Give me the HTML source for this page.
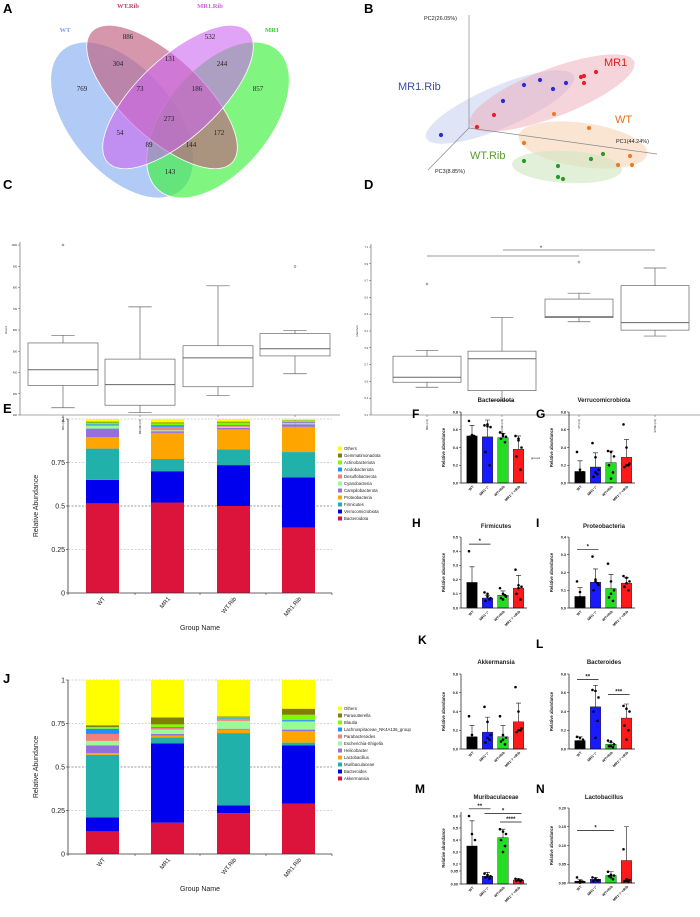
<!DOCTYPE html>
<html><head><meta charset="utf-8">
<style>
html,body{margin:0;padding:0;background:#fff;}
svg{display:block;font-family:"Liberation Sans",sans-serif;}
.pl{font-weight:bold;font-size:13px;fill:#000;}
</style></head>
<body>
<svg id="fig" width="700" height="917" viewBox="0 0 700 917">
  <text class="pl" x="3" y="13">A</text>
  <text class="pl" x="364" y="13">B</text>
  <text class="pl" x="3" y="189">C</text>
  <text class="pl" x="364" y="189">D</text>
  <text class="pl" x="3" y="413">E</text>
  <text class="pl" x="3" y="683">J</text>

  <g id="venn">
    <ellipse cx="122" cy="120" rx="92" ry="52" transform="rotate(50 122 120)" fill="#94b6f2" fill-opacity="0.72" stroke="#fff" stroke-width="0.8"/>
    <ellipse cx="218" cy="120" rx="92" ry="52" transform="rotate(-50 218 120)" fill="#3cf03c" fill-opacity="0.65" stroke="#fff" stroke-width="0.8"/>
    <ellipse cx="162" cy="97" rx="96" ry="40" transform="rotate(43 162 97)" fill="#c0607f" fill-opacity="0.65" stroke="#fff" stroke-width="0.8"/>
    <ellipse cx="178" cy="97" rx="96" ry="40" transform="rotate(-43 178 97)" fill="#cc66ee" fill-opacity="0.6" stroke="#fff" stroke-width="0.8"/>
    <g font-family="Liberation Serif, serif" font-size="7" text-anchor="middle" fill="#222">
      <text x="82" y="91">769</text>
      <text x="128" y="39">886</text>
      <text x="210" y="39">532</text>
      <text x="258" y="91">857</text>
      <text x="118" y="66">304</text>
      <text x="170" y="61">131</text>
      <text x="222" y="66">244</text>
      <text x="140" y="91">73</text>
      <text x="197" y="91">186</text>
      <text x="169" y="121">273</text>
      <text x="120" y="135">54</text>
      <text x="219" y="135">172</text>
      <text x="149" y="147">89</text>
      <text x="191" y="147">144</text>
      <text x="170" y="174">143</text>
    </g>
    <g font-family="Liberation Serif, serif" font-size="6.5" font-weight="bold" text-anchor="middle">
      <text x="65" y="32" fill="#6fa0ff">WT</text>
      <text x="128" y="8" fill="#c0406a">WT.Rib</text>
      <text x="210" y="8" fill="#d060e0">MR1.Rib</text>
      <text x="272" y="32" fill="#30d030">MR1</text>
    </g>
  </g>

  <g id="pca">
    <ellipse cx="500" cy="107" rx="80" ry="21" transform="rotate(-23 500 107)" fill="#b8c4ee" fill-opacity="0.45"/>
    <ellipse cx="552" cy="93" rx="88" ry="24" transform="rotate(-21 552 93)" fill="#eeaab8" fill-opacity="0.5"/>
    <ellipse cx="583" cy="145" rx="65" ry="22" transform="rotate(8 583 145)" fill="#f6cfae" fill-opacity="0.55"/>
    <ellipse cx="567" cy="167" rx="55" ry="16" transform="rotate(3 567 167)" fill="#cfe6bf" fill-opacity="0.6"/>
    <line x1="469" y1="15" x2="469" y2="128" stroke="#888" stroke-width="0.7"/>
    <line x1="469" y1="128" x2="657" y2="154" stroke="#888" stroke-width="0.7"/>
    <line x1="469" y1="128" x2="428" y2="170" stroke="#888" stroke-width="0.7"/>
    <text x="424" y="20" font-size="5.5" fill="#222">PC2(26.05%)</text>
    <text x="616" y="143" font-size="5.5" fill="#222">PC1(44.24%)</text>
    <text x="435" y="173" font-size="5.5" fill="#222">PC3(8.85%)</text>
    <text x="398" y="90" font-size="11" fill="#3a4fa8">MR1.Rib</text>
    <text x="604" y="66" font-size="11" fill="#e02020">MR1</text>
    <text x="615" y="123" font-size="11" fill="#e07020">WT</text>
    <text x="470" y="159" font-size="11" fill="#5a9a30">WT.Rib</text>
    <g id="pcaPts"></g>
  </g>

  <g id="boxC"></g>
  <g id="boxD"></g>
  <g id="stackE"></g>
  <g id="stackJ"></g>
  <g id="bars"></g>
</svg>

<script>
const pcaGroups = ["MR1","MR1.Rib","WT","WT.Rib"];
const pcaColors = ["#e8202a","#2a2ad8","#f07a20","#2a9a2a"];
const pcaPC1 = [[581,584,596,584,494,477],[524,540,553,566,503,441],[554,589,524,630,618,632],[591,603,524,558,558,563]];
const pcaPC2 = [[77,76,72,83,115,127],[85,80,89,83,101,135],[114,128,143,156,165,165],[159,154,161,166,177,179]];

const boxCats = ["MR1 (n=6)","MR1.Rib (n=6)","WT (n=6)","WT.Rib (n=6)"];
const chaoLow = [234,211,291,394];
const chaoQ1 = [339,246,333,478];
const chaoMed = [413,343,469,512];
const chaoQ3 = [539,463,526,583];
const chaoHigh = [575,709,808,598];
const chaoOut = [1000,null,null,899];
const chaoTicks = [200,300,400,500,600,700,800,900,1000];
const shanLow = [5.43,5.27,6.21,6.04];
const shanQ1 = [5.49,5.39,6.26,6.11];
const shanMed = [5.55,5.77,6.27,6.20];
const shanQ3 = [5.80,5.86,6.48,6.64];
const shanHigh = [5.87,6.26,6.55,6.85];
const shanOut = [6.66,null,6.92,null];
const shanTicks = [5.1,5.3,5.5,5.7,5.9,6.1,6.3,6.5,6.7,6.9,7.1];

const groups = ["WT","MR1","WT.Rib","MR1.Rib"];
const phyla = ["Bacteroidota","Verrucomicrobiota","Firmicutes","Proteobacteria","Campilobacterota","Cyanobacteria","Desulfobacterota","Acidobacteriota","Actinobacteriota","Gemmatimonadota","Others"];
const phylaColors = ["#dc143c","#0000ee","#20b2aa","#ffa500","#9370db","#98fb98","#f08080","#1e90ff","#7cfc00","#808000","#ffff00"];
const phylaWT = [0.515,0.135,0.18,0.065,0.05,0.015,0.005,0.005,0.01,0.005,0.015];
const phylaMR1 = [0.52,0.18,0.07,0.15,0.01,0.005,0.02,0.01,0.01,0.005,0.02];
const phylaWTRib = [0.50,0.235,0.09,0.115,0.01,0.005,0.005,0.005,0.015,0.005,0.015];
const phylaMR1Rib = [0.375,0.29,0.145,0.145,0.015,0.005,0.005,0.003,0.007,0.003,0.007];
const genera = ["Akkermansia","Bacteroides","Muribaculaceae","Lactobacillus","Helicobacter","Escherichia-Shigella","Parabacteroides","Lachnospiraceae_NK4A136_group","Blautia","Parasutterella","Others"];
const generaColors = ["#dc143c","#0000ee","#20b2aa","#ffa500","#9370db","#98fb98","#f08080","#1e90ff","#7cfc00","#808000","#ffff00"];
const genWT = [0.13,0.08,0.36,0.01,0.045,0.025,0.04,0.03,0.01,0.01,0.26];
const genMR1 = [0.18,0.455,0.035,0.01,0.01,0.025,0.01,0.005,0.015,0.04,0.215];
const genWTRib = [0.235,0.045,0.415,0.02,0.005,0.045,0.01,0.005,0.005,0.005,0.21];
const genMR1Rib = [0.29,0.335,0.015,0.065,0.01,0.045,0.005,0.005,0.03,0.035,0.165];
const stackTicks = [0,0.25,0.5,0.75,1];
const stackTickLabels = ["0","0.25","0.5","0.75","1"];

const barCats = ["WT","MR1⁻/⁻","WT+Rib","MR1⁻/⁻+Rib"];
const barColors = ["#000000","#1a1aff","#22dd22","#ff1a1a"];
const fMeans = [0.53,0.52,0.51,0.38];
const fErr = [0.65,0.71,0.56,0.53];
const fDots = [[0.70,0.53,0.52,0.52,0.53,0.54],[0.65,0.66,0.63,0.35,0.20,0.64],[0.57,0.53,0.52,0.50,0.46,0.55],[0.53,0.50,0.40,0.30,0.15,0.48]];
const gMeans = [0.13,0.18,0.23,0.29];
const gErr = [0.25,0.34,0.36,0.49];
const gDots = [[0.35,0.15,0.12,0.10,0.10,0.12],[0.45,0.29,0.15,0.07,0.10,0.12],[0.36,0.35,0.30,0.20,0.12,0.05],[0.66,0.40,0.22,0.18,0.20,0.20]];
const hMeans = [0.18,0.07,0.09,0.14];
const hErr = [0.29,0.09,0.12,0.23];
const hDots = [[0.40,0.15,0.12,0.10,0.15,0.17],[0.11,0.10,0.07,0.05,0.06,0.08],[0.14,0.10,0.08,0.07,0.09,0.06],[0.27,0.16,0.15,0.10,0.06,0.14]];
const iMeans = [0.065,0.145,0.11,0.14];
const iErr = [0.115,0.22,0.19,0.17];
const iDots = [[0.15,0.09,0.05,0.04,0.03,0.06],[0.29,0.15,0.13,0.10,0.14,0.16],[0.25,0.15,0.10,0.06,0.04,0.08],[0.18,0.17,0.15,0.12,0.10,0.14]];
const kMeans = [0.13,0.18,0.13,0.29];
const kErr = [0.25,0.34,0.25,0.49];
const kDots = [[0.35,0.15,0.12,0.10,0.10,0.12],[0.45,0.29,0.15,0.07,0.10,0.12],[0.35,0.15,0.12,0.08,0.05,0.10],[0.66,0.40,0.22,0.18,0.20,0.20]];
const lMeans = [0.09,0.45,0.05,0.33];
const lErr = [0.13,0.68,0.07,0.48];
const lDots = [[0.13,0.12,0.10,0.08,0.06,0.07],[0.63,0.62,0.55,0.40,0.30,0.12],[0.09,0.08,0.05,0.03,0.02,0.03],[0.46,0.43,0.40,0.25,0.20,0.10]];
const mMeans = [0.35,0.030,0.42,0.015];
const mErr = [0.56,0.045,0.49,0.020];
const mDots = [[0.60,0.45,0.40,0.04,0.03,0.02],[0.040,0.035,0.030,0.025,0.020,0.030],[0.49,0.47,0.45,0.40,0.35,0.30],[0.020,0.018,0.015,0.012,0.010,0.015]];
const nMeans = [0.005,0.010,0.020,0.060];
const nErr = [0.010,0.015,0.030,0.150];
const nDots = [[0.015,0.005,0.003,0.002,0.004,0.001],[0.015,0.010,0.008,0.005,0.006,0.012],[0.030,0.022,0.020,0.018,0.010,0.015],[0.090,0.010,0.008,0.005,0.004,0.006]];

const NS = "http://www.w3.org/2000/svg";
function mk(tag, attrs, parent){
  const e = document.createElementNS(NS, tag);
  for (const k in attrs) e.setAttribute(k, attrs[k]);
  parent.appendChild(e);
  return e;
}
function txt(parent, x, y, s, size, extra){
  const t = mk("text", Object.assign({x:x, y:y, "font-size":size, fill:"#222"}, extra||{}), parent);
  t.textContent = s;
  return t;
}

(function(){
  const g = document.getElementById("pcaPts");
  pcaGroups.forEach((grp, gi) => {
    pcaPC1[gi].forEach((px, i) => {
      const c = mk("circle", {cx:px, cy:pcaPC2[gi][i], r:2.1, fill:pcaColors[gi]}, g);
      
      
    });
  });
})();

function boxPlot(gid, x0, x1, yTop, yBot, vMin, vMax, ticks, tickFmt, centers, bw, low, q1, med, q3, high, out, ylab, nameBase){
  const g = document.getElementById(gid);
  const y = v => yBot - (v - vMin) / (vMax - vMin) * (yBot - yTop);
  const ax = mk("path", {d:`M${x0},${yTop-3}V${yBot}H${x1}`, stroke:"#555", "stroke-width":0.6, fill:"none"}, g);
  
  
  ticks.forEach(t => {
    mk("line", {x1:x0-2, x2:x0, y1:y(t), y2:y(t), stroke:"#555", "stroke-width":0.5}, g);
    const tl = txt(g, x0-3, y(t)+1, tickFmt(t), 2.5, {"text-anchor":"end"});
    
    
  });
  centers.forEach((cx, i) => {
    const bg = mk("g", {}, g);
    
    
    const st = {stroke:"#666", "stroke-width":0.7, fill:"none"};
    mk("line", Object.assign({x1:cx, x2:cx, y1:y(high[i]), y2:y(q3[i])}, st), bg);
    mk("line", Object.assign({x1:cx, x2:cx, y1:y(q1[i]), y2:y(low[i])}, st), bg);
    mk("line", Object.assign({x1:cx-bw/6, x2:cx+bw/6, y1:y(high[i]), y2:y(high[i])}, st), bg);
    mk("line", Object.assign({x1:cx-bw/6, x2:cx+bw/6, y1:y(low[i]), y2:y(low[i])}, st), bg);
    mk("rect", Object.assign({x:cx-bw/2, y:y(q3[i]), width:bw, height:y(q1[i])-y(q3[i])}, st), bg);
    mk("line", Object.assign({x1:cx-bw/2, x2:cx+bw/2, y1:y(med[i]), y2:y(med[i])}, st, {"stroke-width":1}), bg);
    if (out[i] !== null) mk("circle", {cx:cx, cy:y(out[i]), r:1, fill:"none", stroke:"#555", "stroke-width":0.5}, bg);
    mk("line", {x1:cx, x2:cx, y1:yBot, y2:yBot+2, stroke:"#555", "stroke-width":0.5}, g);
    const xl = txt(g, 0, 0, boxCats[i], 2.3, {transform:`translate(${cx+1},${yBot+4}) rotate(-90)`, "text-anchor":"end"});
    
    
  });
  const xt = txt(g, (x0+x1)/2, yBot+44, "group1", 3, {"text-anchor":"middle"});
  
  
  const yt = txt(g, 0, 0, ylab, 3, {transform:`translate(${x0-13},${(yTop+yBot)/2}) rotate(-90)`, "text-anchor":"middle"});
  
  
  return y;
}
boxPlot("boxC", 20, 340, 245, 415, 200, 1000, chaoTicks, t => String(t), [63,140,218,295], 70, chaoLow, chaoQ1, chaoMed, chaoQ3, chaoHigh, chaoOut, "chao1", "chao1");
boxPlot("boxD", 371, 700, 247, 415, 5.1, 7.1, shanTicks, t => t.toFixed(1), [427,502,579,655], 68, shanLow, shanQ1, shanMed, shanQ3, shanHigh, shanOut, "shannon", "shannon");
(function(){
  const g = document.getElementById("boxD");
  const s1 = mk("line", {x1:427, x2:579, y1:256, y2:256, stroke:"#777", "stroke-width":0.8}, g);
  
  
  const s2 = mk("line", {x1:503, x2:655, y1:250, y2:250, stroke:"#777", "stroke-width":0.8}, g);
  
  
  const st = txt(g, 541, 250, "*", 6, {"text-anchor":"middle"});
  
  
})();

function stacked(gid, yTop, yBot, series, labels, colors, nameBase, legendY){
  const g = document.getElementById(gid);
  const x0 = 68, x1 = 332;
  const centers = [102.5, 167.5, 233.5, 298.5], bw = 33;
  const y = v => yBot - v * (yBot - yTop);
  stackTicks.forEach(t => {
    if (t > 0) {
      const gl = mk("line", {x1:x0, x2:x1, y1:y(t), y2:y(t), stroke: t===0.5 ? "#333":"#aaa", "stroke-width":0.6, "stroke-dasharray":"2,1.5"}, g);
      
      
    }
  });
  series.forEach((vals, gi) => {
    let acc = 0;
    vals.forEach((v, k) => {
      const r = mk("rect", {x:centers[gi]-bw/2, y:y(acc+v), width:bw, height:Math.max(0, y(acc)-y(acc+v)), fill:colors[k]}, g);
      
      
      acc += v;
    });
    const cap = mk("rect", {x:centers[gi]-bw/2, y:y(1), width:bw, height:Math.max(0, y(acc)-y(1)), fill:colors[colors.length-1]}, g);
    
    
    const xl = txt(g, 0, 0, groups[gi], 6, {transform:`translate(${centers[gi]+3},${yBot+6}) rotate(-50)`, "text-anchor":"end"});
    
    
  });
  const ax = mk("path", {d:`M${x0},${y(1)}V${yBot}H${x1}`, stroke:"#333", "stroke-width":0.8, fill:"none"}, g);
  
  
  [x0,135,200,266,x1].forEach(tx => mk("line", {x1:tx, x2:tx, y1:yBot, y2:yBot+2, stroke:"#333", "stroke-width":0.6}, g));
  stackTicks.forEach((t, i) => {
    mk("line", {x1:x0-2, x2:x0, y1:y(t), y2:y(t), stroke:"#333", "stroke-width":0.6}, g);
    const tl = txt(g, x0-3, y(t)+2.5, stackTickLabels[i], 7, {"text-anchor":"end"});
    
    
  });
  const yt = txt(g, 0, 0, "Relative Abundance", 7, {transform:`translate(38,${(yTop+yBot)/2}) rotate(-90)`, "text-anchor":"middle"});
  
  
  const xt = txt(g, 200, yBot+37, "Group Name", 7, {"text-anchor":"middle"});
  
  
  for (let k = labels.length-1, row = 0; k >= 0; k--, row++) {
    const ly = legendY + row * 7;
    const sw = mk("rect", {x:338, y:ly-3.5, width:4, height:4, fill:colors[k]}, g);
    
    
    const lt = txt(g, 344, ly, labels[k], 4.3, {});
    
    
  }
}
stacked("stackE", 419, 593, [phylaWT, phylaMR1, phylaWTRib, phylaMR1Rib], phyla, phylaColors, "phylum-chart", 450);
stacked("stackJ", 680, 854, [genWT, genMR1, genWTRib, genMR1Rib], genera, generaColors, "genus-chart", 710);

const jit = [-3, 0, 3, -2, 2, 0];
function barPanel(cfg){
  const root = document.getElementById("bars");
  const g = mk("g", {}, root);
  
  
  const ax0 = cfg.ax, yTop = cfg.yTop, yBot = cfg.yBot;
  const y = cfg.yfn || (v => yBot - v / cfg.max * (yBot - yTop));
  const centers = [0,1,2,3].map(i => ax0 + 11 + i * 15.5);
  const bw = 10.5;
  const ttl = txt(g, ax0 + 35, cfg.titleY, cfg.title, 6, {"text-anchor":"middle", "font-weight":"bold"});
  
  
  if (cfg.letter) {
    const pl = txt(g, cfg.letter[1], cfg.letter[2], cfg.letter[0], 12, {"font-weight":"bold", fill:"#000"});
    
    
  }
  cfg.means.forEach((m, i) => {
    const cx = centers[i];
    const r = mk("rect", {x:cx-bw/2, y:y(m), width:bw, height:yBot-y(m), fill:barColors[i], stroke:"#111", "stroke-width":0.4}, g);
    
    
    const eb = mk("path", {d:`M${cx},${y(m)}V${y(cfg.err[i])}M${cx-2.5},${y(cfg.err[i])}H${cx+2.5}`, stroke: "#111", "stroke-width":0.6, fill:"none"}, g);
    
    
    cfg.dots[i].forEach((d, k) => {
      const c = mk("circle", {cx:cx + jit[k], cy:y(d), r:1.3, fill:"#000"}, g);
      
      
    });
    const xl = txt(g, 0, 0, barCats[i], 3.6, {transform:`translate(${cx+2},${yBot+4}) rotate(-45)`, "text-anchor":"end", "font-weight":"bold"});
    
    
  });
  const ax = mk("path", {d:`M${ax0},${yTop}V${yBot}H${ax0+66}`, stroke:"#111", "stroke-width":0.7, fill:"none"}, g);
  
  
  cfg.ticks.forEach((t, i) => {
    mk("line", {x1:ax0-2, x2:ax0, y1:y(t), y2:y(t), stroke:"#111", "stroke-width":0.5}, g);
    const tl = txt(g, ax0-3, y(t)+1.3, cfg.tickLabels[i], 3.8, {"text-anchor":"end", "font-weight":"bold"});
    
    
  });
  const yt = txt(g, 0, 0, "Relative abundance", 4.2, {transform:`translate(${ax0-16},${(yTop+yBot)/2}) rotate(-90)`, "text-anchor":"middle", "font-weight":"bold"});
  
  
  (cfg.sig || []).forEach(s => {
    const sl = mk("line", {x1:centers[s[0]]-3, x2:centers[s[1]]+3, y1:y(s[2]), y2:y(s[2]), stroke:"#111", "stroke-width":0.7}, g);
    
    
    const st = txt(g, (centers[s[0]]+centers[s[1]])/2, y(s[2])-1, s[3], 6, {"text-anchor":"middle", "font-weight":"bold"});
    
    
  });
  return g;
}
const t08 = [0,0.2,0.4,0.6,0.8], l08 = ["0.0","0.2","0.4","0.6","0.8"];
barPanel({name:"bacteroidota-panel", title:"Bacteroidota", titleY:402, letter:["F",412,418], ax:461, yTop:412, yBot:483, max:0.8, ticks:t08, tickLabels:l08, means:fMeans, err:fErr, dots:fDots});
barPanel({name:"verrucomicrobiota-panel", title:"Verrucomicrobiota", titleY:402, letter:["G",536,418], ax:569, yTop:412, yBot:483, max:0.8, ticks:t08, tickLabels:l08, means:gMeans, err:gErr, dots:gDots});
barPanel({name:"firmicutes-panel", title:"Firmicutes", titleY:528, letter:["H",412,527], ax:461, yTop:537, yBot:608, max:0.5, ticks:[0,0.1,0.2,0.3,0.4,0.5], tickLabels:["0.0","0.1","0.2","0.3","0.4","0.5"], means:hMeans, err:hErr, dots:hDots, sig:[[0,1,0.45,"*"]]});
barPanel({name:"proteobacteria-panel", title:"Proteobacteria", titleY:528, letter:["I",536,527], ax:569, yTop:537, yBot:608, max:0.4, ticks:[0,0.1,0.2,0.3,0.4], tickLabels:["0.0","0.1","0.2","0.3","0.4"], means:iMeans, err:iErr, dots:iDots, sig:[[0,1,0.33,"*"]]});
barPanel({name:"akkermansia-panel", title:"Akkermansia", titleY:664, letter:["K",418,644], ax:461, yTop:674, yBot:749, max:0.8, ticks:t08, tickLabels:l08, means:kMeans, err:kErr, dots:kDots});
barPanel({name:"bacteroides-panel", title:"Bacteroides", titleY:664, letter:["L",536,648], ax:569, yTop:674, yBot:749, max:0.8, ticks:t08, tickLabels:l08, means:lMeans, err:lErr, dots:lDots, sig:[[0,1,0.74,"**"],[2,3,0.58,"***"]]});
barPanel({name:"muribaculaceae-panel", title:"Muribaculaceae", titleY:799, letter:["M",415,793], ax:461, yTop:812, yBot:884, max:0.6,
  yfn: v => v <= 0.05 ? 884 - v/0.05*13 : (v < 0.2 ? 871 : 864 - (v-0.2)/0.4*48),
  ticks:[0,0.05,0.2,0.3,0.4,0.5,0.6], tickLabels:["0.00","0.05","0.2","0.3","0.4","0.5","0.6"], means:mMeans, err:mErr, dots:mDots, sig:[[0,1,0.66,"**"],[1,3,0.62,"*"],[2,3,0.55,"****"]]});
barPanel({name:"lactobacillus-panel", title:"Lactobacillus", titleY:799, letter:["N",536,793], ax:569, yTop:808, yBot:883, max:0.2, ticks:[0,0.05,0.1,0.15,0.2], tickLabels:["0.00","0.05","0.10","0.15","0.20"], means:nMeans, err:nErr, dots:nDots, sig:[[0,2,0.14,"*"]]});
</script>
</body></html>
